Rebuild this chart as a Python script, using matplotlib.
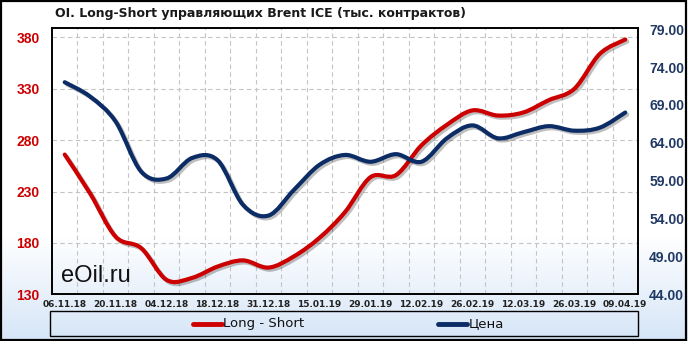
import numpy as np
import matplotlib
matplotlib.use("Agg")
import matplotlib.pyplot as plt
import matplotlib.patheffects as pe
from matplotlib.path import Path
from matplotlib.patches import PathPatch, Rectangle
from matplotlib.lines import Line2D

dates = ["06.11.18", "13.11.18", "20.11.18", "27.11.18", "04.12.18", "11.12.18",
         "18.12.18", "24.12.18", "31.12.18", "08.01.19", "15.01.19", "22.01.19",
         "29.01.19", "05.02.19", "12.02.19", "19.02.19", "26.02.19", "05.03.19",
         "12.03.19", "19.03.19", "26.03.19", "02.04.19", "09.04.19"]
long_short = [266, 228, 186, 175, 144, 146, 157, 163, 156, 167, 185, 210,
              244, 246, 275, 295, 309, 304, 307, 319, 330, 364, 378]
price = [72.0, 70.1, 66.8, 60.2, 59.3, 62.0, 61.7, 55.8, 54.4, 57.8, 61.1, 62.4,
         61.5, 62.5, 61.5, 64.6, 66.3, 64.6, 65.4, 66.2, 65.6, 66.0, 68.0]

RED = "#CC0000"
NAVY = "#0C2C66"


def smooth_path(x, y):
    # Excel-style smoothed line: cubic Bezier through every point
    pts = np.column_stack([x, y]).astype(float)
    n = len(pts)
    verts = [pts[0]]
    codes = [Path.MOVETO]
    for i in range(n - 1):
        p0 = pts[max(i - 1, 0)]
        p1 = pts[i]
        p2 = pts[i + 1]
        p3 = pts[min(i + 2, n - 1)]
        verts += [p1 + (p2 - p0) / 6.0, p2 - (p3 - p1) / 6.0, p2]
        codes += [Path.CURVE4] * 3
    return Path(verts, codes)


fig = plt.figure(figsize=(6.88, 3.41), dpi=100)

# background gradient
bg = fig.add_axes([0, 0, 1, 1], zorder=-10)
grad = np.ones((341, 1, 3))
c_top = np.array([1.0, 1.0, 1.0])
c_bot = np.array([0.835, 0.898, 0.969])
for r in range(341):
    t = min(max((r - 235) / (341 - 235), 0), 1)
    grad[r, 0] = c_top * (1 - t) + c_bot * t
bg.imshow(grad, aspect="auto", extent=[0, 1, 0, 1], origin="upper")
bg.set_axis_off()
fig.patches.append(Rectangle((0.001, 0.002), 0.996, 0.994, transform=fig.transFigure,
                             fill=False, edgecolor="black", linewidth=1.6))

ax = fig.add_axes([52 / 688, 1 - 294.3 / 341, (638 - 52) / 688, (294.3 - 27.7) / 341])
ax.patch.set_alpha(0)
ax2 = ax.twinx()

x = np.arange(len(dates))
ax.set_xlim(-0.5, len(dates) - 0.5)
ax.set_ylim(130, 389.5)
ax2.set_ylim(44, 79.2)

shadow = [pe.SimpleLineShadow(offset=(1.5, -1.5), shadow_color="black", alpha=0.25),
          pe.Normal()]
ax.add_patch(PathPatch(smooth_path(x, long_short), fill=False, edgecolor=RED,
                       linewidth=3.0, capstyle="round", path_effects=shadow, zorder=3))
ax2.add_patch(PathPatch(smooth_path(x, price), fill=False, edgecolor=NAVY,
                        linewidth=3.0, capstyle="round", path_effects=shadow, zorder=3))

# grid
ax.set_yticks([130, 180, 230, 280, 330, 380])
for v in [180, 230, 280, 330, 380]:
    ax.axhline(v, color="#C4C4C4", linestyle=(0, (4, 3)), linewidth=0.8, zorder=1)
for b in np.arange(0.5, len(dates) - 1, 1.0):
    ax.axvline(b, color="#C4C4C4", linestyle=(0, (4, 3)), linewidth=0.8, zorder=1)

ax.set_xticks(x[::2])
ax.set_xticklabels(dates[::2], fontsize=6.5, fontweight="bold", color="#222222",
                   family="DejaVu Sans")
ax.tick_params(axis="x", length=0, pad=4)
ax.tick_params(axis="y", length=0, pad=9, labelcolor=RED, labelsize=10)
for lab in ax.get_yticklabels():
    lab.set_fontweight("bold")
    lab.set_family("Liberation Sans")

ax2.set_yticks([44, 49, 54, 59, 64, 69, 74, 79])
ax2.set_yticklabels(["%.2f" % v for v in [44, 49, 54, 59, 64, 69, 74, 79]])
ax2.tick_params(axis="y", length=0, pad=8, labelcolor="#1F3864", labelsize=10)
for lab in ax2.get_yticklabels():
    lab.set_fontweight("bold")
    lab.set_family("Liberation Sans")

for a in (ax, ax2):
    for s in a.spines.values():
        s.set_linewidth(1.2)
        s.set_color("black")

ax.text(9 / 586, 12.5 / 266.6, "eOil.ru", transform=ax.transAxes, fontsize=17,
        family="Liberation Sans", color="#111111", zorder=4)

fig.text(55 / 688, 1 - 13 / 341, "OI. Long-Short управляющих Brent ICE (тыс. контрактов)",
         fontsize=9, fontweight="bold", color="#1a1a1a", va="center", ha="left")

# legend box
fig.patches.append(Rectangle((50 / 688, 1 - 336 / 341), (638 - 50) / 688, 25 / 341,
                             transform=fig.transFigure, fill=False,
                             edgecolor="black", linewidth=1.0))
ly = 1 - 323.5 / 341
fig.lines.append(Line2D([193 / 688, 222 / 688], [ly, ly], transform=fig.transFigure,
                        color=RED, linewidth=3.5, solid_capstyle="round"))
fig.text(223 / 688, ly, "Long - Short", fontsize=9.5, va="center", ha="left",
         color="#111111")
fig.lines.append(Line2D([438 / 688, 467 / 688], [ly, ly], transform=fig.transFigure,
                        color=NAVY, linewidth=3.5, solid_capstyle="round"))
fig.text(469 / 688, ly, "Цена", fontsize=9.5, va="center", ha="left", color="#111111")

fig.savefig("out.png", dpi=100)
